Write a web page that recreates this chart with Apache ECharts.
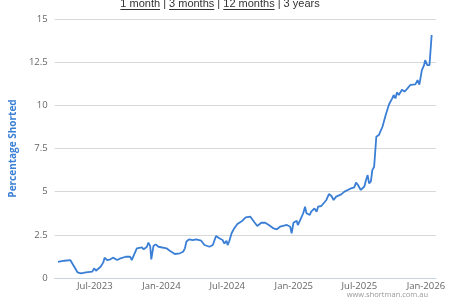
<!DOCTYPE html>
<html>
<head>
<meta charset="utf-8">
<script src="https://cdn.jsdelivr.net/npm/echarts@6/dist/echarts.min.js"></script>
<style>html,body{margin:0;padding:0;background:#fff}#c{width:455px;height:308px}</style>
</head>
<body>
<div id="c"></div>
<script>
// ---- data ----
const dates = [
 '2023-03-21','2023-04-08','2023-04-24','2023-04-29','2023-05-14','2023-05-24','2023-06-06','2023-06-24','2023-06-29','2023-07-04',
 '2023-07-17','2023-07-24','2023-07-28','2023-08-04','2023-08-13','2023-08-20','2023-09-01','2023-09-10','2023-09-24','2023-10-07',
 '2023-10-11','2023-10-19','2023-10-25','2023-11-08','2023-11-13','2023-11-22','2023-11-26','2023-12-01','2023-12-04','2023-12-10',
 '2023-12-16','2023-12-24','2024-01-15','2024-01-24','2024-02-07','2024-02-11','2024-02-21','2024-03-01','2024-03-06','2024-03-10',
 '2024-03-17','2024-03-28','2024-04-06','2024-04-20','2024-04-29','2024-05-13','2024-05-22','2024-05-31','2024-06-09','2024-06-18',
 '2024-06-23','2024-06-29','2024-07-02','2024-07-06','2024-07-13','2024-07-20','2024-07-29','2024-08-12','2024-08-21','2024-09-03',
 '2024-09-13','2024-09-22','2024-10-03','2024-10-14','2024-10-24','2024-11-06','2024-11-15','2024-11-24','2024-12-13','2024-12-22',
 '2024-12-26','2024-12-31','2025-01-09','2025-01-12','2025-01-18','2025-01-27','2025-02-01','2025-02-05','2025-02-14','2025-02-18',
 '2025-02-27','2025-03-05','2025-03-09','2025-03-18','2025-03-23','2025-04-01','2025-04-08','2025-04-15','2025-04-21','2025-04-28',
 '2025-05-12','2025-05-21','2025-05-30','2025-06-08','2025-06-17','2025-06-22','2025-06-27','2025-07-05','2025-07-15','2025-07-19',
 '2025-07-24','2025-07-28','2025-08-02','2025-08-06','2025-08-11','2025-08-17','2025-08-24','2025-09-03','2025-09-12','2025-09-21',
 '2025-09-30','2025-10-04','2025-10-09','2025-10-13','2025-10-18','2025-10-27','2025-11-03','2025-11-05','2025-11-10','2025-11-19',
 '2025-12-03','2025-12-09','2025-12-14','2025-12-21','2025-12-27','2025-12-30','2026-01-05','2026-01-11','2026-01-17'
];
const shorted = [
 0.93,1.00,1.04,0.93,0.33,0.27,0.33,0.37,0.56,0.42,
 0.65,0.89,1.18,1.04,1.08,1.18,1.04,1.14,1.23,1.23,
 1.04,1.43,1.72,1.78,1.66,1.81,2.05,1.85,1.08,1.85,
 1.95,1.81,1.72,1.58,1.39,1.33,1.43,1.52,1.72,2.10,
 2.24,2.20,2.24,2.16,1.91,1.81,1.91,2.43,2.30,2.20,
 2.00,2.16,1.91,2.10,2.59,2.87,3.13,3.32,3.51,3.55,
 3.26,3.01,3.20,3.20,3.07,2.87,2.82,2.97,3.07,2.97,
 2.59,3.20,3.32,3.07,3.32,3.75,4.13,3.75,3.65,3.84,
 4.03,3.84,4.13,4.17,4.23,4.52,4.86,4.75,4.52,4.71,
 4.84,5.00,5.10,5.19,5.25,5.52,5.40,5.10,5.30,5.63,
 5.96,5.48,5.60,6.25,6.44,8.18,8.28,8.76,9.44,10.05,
 10.40,10.60,10.40,10.75,10.60,10.90,10.80,10.69,10.95,11.18,
 11.21,11.46,11.20,12.04,12.33,12.62,12.33,12.33,14.07
];
const xTickDates = ['2023-07-01','2024-01-01','2024-07-01','2025-01-01','2025-07-01','2026-01-01'];
const xTickLabels = ['Jul-2023','Jan-2024','Jul-2024','Jan-2025','Jul-2025','Jan-2026'];
const yTicks = [0, 2.5, 5, 7.5, 10, 12.5, 15];
const rangeLinks = ['1 month', '3 months', '12 months'];
const rangeCurrent = '3 years';
const yAxisTitle = 'Percentage Shorted';
const credit = 'www.shortman.com.au';

// ---- chart ----
const FONT = '"Open Sans", Arial, sans-serif';
const RS_FONT = '"Liberation Sans", Arial, sans-serif';
const ts = s => new Date(s + 'T00:00:00Z').getTime();
const tickTs = xTickDates.map(ts);
const labelFor = {};
tickTs.forEach((t, i) => labelFor[t] = xTickLabels[i]);

const chart = echarts.init(document.getElementById('c'), null, {renderer: 'canvas'});

const ctx = document.createElement('canvas').getContext('2d');
const RS_FONT_SIZE = 11;
ctx.font = RS_FONT_SIZE + 'px ' + RS_FONT;
const pieces = [];
rangeLinks.forEach(t => {
  pieces.push({text: t, link: true});
  pieces.push({text: ' | ', link: false});
});
pieces.push({text: rangeCurrent, link: false});
const totalW = pieces.reduce((a, p) => a + ctx.measureText(p.text).width, 0);
let cx = 220 - totalW / 2;
const graphics = [];
pieces.forEach(p => {
  const w = ctx.measureText(p.text).width;
  graphics.push({type: 'text', x: cx, y: 4, style: {text: p.text, font: RS_FONT_SIZE + 'px ' + RS_FONT, fill: '#333', textVerticalAlign: 'middle'}});
  if (p.link) graphics.push({type: 'line', shape: {x1: cx, y1: 9.5, x2: cx + w, y2: 9.5}, style: {stroke: '#333', lineWidth: 1}});
  cx += w;
});
graphics.push({type: 'text', right: 27, top: 291, style: {text: credit, font: '7.5px ' + FONT, fill: '#999'}});

chart.setOption({
  animation: false,
  grid: {left: 50, right: 19, top: 19, bottom: 30},
  graphic: graphics,
  xAxis: {
    type: 'value',
    min: ts('2023-03-12'),
    max: ts('2026-01-29'),
    axisLine: {show: true, lineStyle: {color: '#c8d4e0'}},
    axisTick: {show: false},
    splitLine: {show: false},
    axisLabel: {
      customValues: tickTs,
      formatter: v => labelFor[v] || '',
      color: '#666', fontSize: 9.5, fontFamily: FONT, margin: 3,
      hideOverlap: false
    }
  },
  yAxis: {
    type: 'value',
    min: yTicks[0], max: yTicks[yTicks.length - 1], interval: 2.5,
    name: yAxisTitle,
    nameLocation: 'middle',
    nameGap: 25,
    nameTextStyle: {color: '#3a7fd5', fontSize: 10, fontWeight: 'bold', fontFamily: FONT},
    axisLine: {show: false},
    axisTick: {show: false},
    axisLabel: {color: '#666', fontSize: 9.5, fontFamily: FONT, margin: 7},
    splitLine: {lineStyle: {color: '#d8d8d8', width: 1}}
  },
  series: [{
    type: 'line',
    data: dates.map((d, i) => [ts(d), shorted[i]]),
    showSymbol: false,
    symbol: 'none',
    lineStyle: {color: '#3a7fd5', width: 1.8},
    itemStyle: {color: '#3a7fd5'}
  }]
});
</script>
</body>
</html>
